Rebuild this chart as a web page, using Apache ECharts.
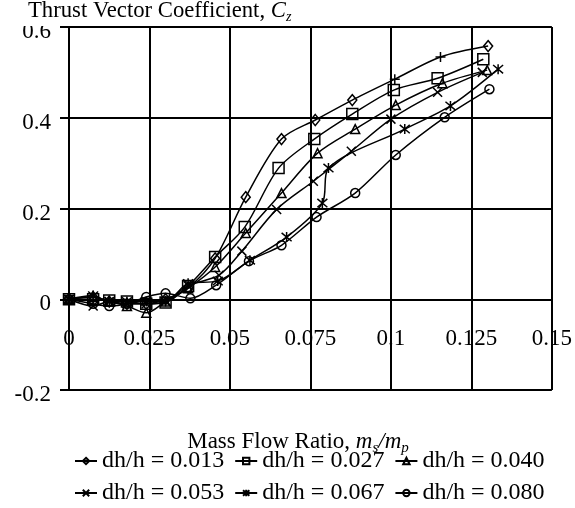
<!DOCTYPE html>
<html>
<head>
<meta charset="utf-8">
<script src="https://cdn.jsdelivr.net/npm/echarts@6/dist/echarts.min.js"></script>
<style>
html, body { margin: 0; padding: 0; background: #fff; }
#chart { width: 575px; height: 508px; }
</style>
</head>
<body>
<div id="chart"></div>
<script>
// Values: mass flow ratio (x) against Cz (y), one pair per dh/h
const seriesNames = ['dh/h = 0.013', 'dh/h = 0.027', 'dh/h = 0.040', 'dh/h = 0.053', 'dh/h = 0.067', 'dh/h = 0.080'];

const x013 = [0, 0.0075, 0.0125, 0.018, 0.024, 0.030, 0.037, 0.0454, 0.0549, 0.066, 0.0765, 0.088, 0.1012, 0.1154, 0.1302];
const y013 = [0, 0.005, -0.005, -0.01, -0.01, 0.0, 0.025, 0.09, 0.225, 0.353, 0.395, 0.439, 0.485, 0.534, 0.558];

const x027 = [0, 0.0075, 0.0125, 0.018, 0.024, 0.030, 0.037, 0.0454, 0.0546, 0.0651, 0.0762, 0.088, 0.1009, 0.1145, 0.1287];
const y027 = [0, 0.0, -0.003, -0.005, -0.01, -0.007, 0.029, 0.093, 0.159, 0.289, 0.353, 0.408, 0.461, 0.487, 0.529];

const x040 = [0, 0.0075, 0.0125, 0.018, 0.024, 0.030, 0.037, 0.0454, 0.0549, 0.066, 0.0772, 0.0889, 0.1015, 0.116, 0.1299];
const y040 = [0, 0.005, -0.005, -0.015, -0.03, -0.005, 0.024, 0.071, 0.146, 0.234, 0.322, 0.375, 0.428, 0.476, 0.505];

const x053 = [0, 0.0075, 0.0125, 0.018, 0.024, 0.030, 0.037, 0.0466, 0.0537, 0.0645, 0.0759, 0.0877, 0.1, 0.1145, 0.1284];
const y053 = [0, -0.015, -0.005, -0.01, -0.01, -0.005, 0.03, 0.053, 0.106, 0.198, 0.26, 0.326, 0.397, 0.456, 0.50];

const x067 = [0, 0.0075, 0.0125, 0.018, 0.024, 0.030, 0.037, 0.0462, 0.0562, 0.0676, 0.0787, 0.0806, 0.1043, 0.1185, 0.1333];
const y067 = [0, 0.008, -0.005, -0.005, -0.005, -0.005, 0.035, 0.04, 0.086, 0.137, 0.212, 0.289, 0.375, 0.426, 0.507];

const x080 = [0, 0.0075, 0.0125, 0.018, 0.024, 0.030, 0.0377, 0.0457, 0.0559, 0.066, 0.0769, 0.0889, 0.1015, 0.1167, 0.1306];
const y080 = [0, -0.01, -0.015, -0.01, 0.005, 0.013, 0.002, 0.031, 0.084, 0.119, 0.181, 0.234, 0.318, 0.401, 0.463];

// two points on the 0.013 curve are drawn with a "+" instead of a diamond
const plusPoints013 = [12, 13];

const xTickLabels = ['0', '0.025', '0.05', '0.075', '0.1', '0.125', '0.15'];
const yTickLabels = ['-0.2', '0', '0.2', '0.4', '0.6'];

const FONT = 'Liberation Serif';
const SYM_CROSS = 'path://M0,0L10,10M10,0L0,10';
const SYM_STAR = 'path://M0,0L10,10M10,0L0,10M5,-1L5,11';
const SYM_PLUS = 'path://M5,0L5,10M0,5L10,5';

const chart = echarts.init(document.getElementById('chart'));

function pairs(xs, ys) {
  return xs.map(function (x, i) { return [x, ys[i]]; });
}

function makeSeries(name, data, symbol, size) {
  return {
    name: name,
    type: 'line',
    data: data,
    smooth: 0.3,
    symbol: symbol,
    symbolSize: size,
    showAllSymbol: true,
    lineStyle: { color: '#000', width: 1.5 },
    itemStyle: { color: 'rgba(255,255,255,0)', borderColor: '#000', borderWidth: 1.5 },
    emphasis: { disabled: true },
    animation: false
  };
}

const d013 = pairs(x013, y013).map(function (p, i) {
  return plusPoints013.indexOf(i) >= 0 ? { value: p, symbol: SYM_PLUS, symbolSize: 10 } : p;
});

const rich = {
  n: { fontFamily: FONT, fontSize: 23, color: '#000', lineHeight: 28 },
  i: { fontFamily: FONT, fontSize: 23, fontStyle: 'italic', color: '#000', lineHeight: 28 },
  s: { fontFamily: FONT, fontSize: 15, fontStyle: 'italic', color: '#000', lineHeight: 15, verticalAlign: 'bottom' }
};

const legendText = { fontFamily: FONT, fontSize: 24, color: '#000' };

chart.setOption({
  backgroundColor: '#fff',
  animation: false,
  title: {
    text: '{n|Thrust Vector Coefficient, }{i|C}{s|z}',
    left: 28, top: -2, padding: 0, z: 200,
    textStyle: { fontWeight: 'normal', rich: {
      n: { fontFamily: FONT, fontSize: 22.7, fontWeight: 'normal', color: '#000', lineHeight: 26 },
      i: { fontFamily: FONT, fontSize: 22.7, fontWeight: 'normal', fontStyle: 'italic', color: '#000', lineHeight: 26 },
      s: { fontFamily: FONT, fontSize: 14, fontWeight: 'normal', fontStyle: 'italic', color: '#000', lineHeight: 14, verticalAlign: 'bottom' }
    } }
  },
  grid: { left: 69, right: 20, top: 27, bottom: 118 },
  xAxis: {
    type: 'value', min: 0, max: 0.15, interval: 0.025,
    offset: -91,
    axisLine: { show: false, onZero: false },
    axisTick: { show: false },
    splitLine: { show: true, lineStyle: { color: '#000', width: 2 } },
    axisLabel: {
      margin: 28, color: '#000', fontFamily: FONT, fontSize: 23,
      showMinLabel: true, showMaxLabel: true,
      formatter: function (v) { return xTickLabels[Math.round(v / 0.025)]; }
    }
  },
  yAxis: {
    type: 'value', min: -0.2, max: 0.6, interval: 0.2,
    axisLine: { show: true, onZero: false, lineStyle: { color: '#000', width: 2 } },
    axisTick: { show: true, length: 9, lineStyle: { color: '#000', width: 2 } },
    splitLine: { show: true, lineStyle: { color: '#000', width: 2 } },
    axisLabel: {
      margin: 18, color: '#000', fontFamily: FONT, fontSize: 23,
      verticalAlign: 'top', lineHeight: 10,
      formatter: function (v) { return yTickLabels[Math.round((v + 0.2) / 0.2)]; }
    }
  },
  legend: [
    { data: seriesNames.slice(0, 3), left: 74, top: 449, padding: 0, itemGap: 10, itemWidth: 22, itemHeight: 8, textStyle: legendText },
    { data: seriesNames.slice(3), left: 74, top: 481, padding: 0, itemGap: 10, itemWidth: 22, itemHeight: 8, textStyle: legendText }
  ],
  graphic: [
    // the title box hides the top of the 0.6 label, as in the original
    { type: 'rect', shape: { x: 0, y: 0, width: 64, height: 26 }, style: { fill: '#fff' }, z: 150 },
    {
      type: 'text', x: 298, y: 442,
      style: {
        text: '{n|Mass Flow Ratio, }{i|m}{s|s}{i|/m}{s|p}',
        rich: rich, align: 'center', verticalAlign: 'middle'
      }
    }
  ],
  series: [
    makeSeries(seriesNames[0], d013, 'diamond', [9, 11]),
    makeSeries(seriesNames[1], pairs(x027, y027), 'rect', 11),
    makeSeries(seriesNames[2], pairs(x040, y040), 'triangle', 9),
    makeSeries(seriesNames[3], pairs(x053, y053), SYM_CROSS, 9),
    makeSeries(seriesNames[4], pairs(x067, y067), SYM_STAR, 10),
    makeSeries(seriesNames[5], pairs(x080, y080), 'circle', 9)
  ]
});
</script>
</body>
</html>
